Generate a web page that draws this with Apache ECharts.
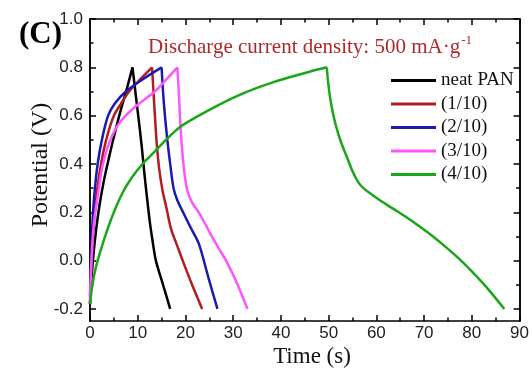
<!DOCTYPE html>
<html>
<head>
<meta charset="utf-8">
<script src="https://cdn.jsdelivr.net/npm/echarts@6/dist/echarts.min.js"></script>
<style>html,body{margin:0;padding:0;background:#fff;}#c{width:532px;height:370px;}</style>
</head>
<body>
<div id="c"></div>
<script>
// Data (time in s, potential in V); each sample: charge branch, then discharge branch
const seriesNames = ['neat PAN', '(1/10)', '(2/10)', '(3/10)', '(4/10)'];
const neatCharge = [[0,-0.18],[0.3,-0.08],[0.7,0.02],[1.3,0.13],[2.0,0.23],[2.9,0.33],[3.9,0.42],[5.1,0.52],[6.4,0.62],[7.7,0.71],[8.9,0.8]];
const neatDischarge = [[8.9,0.8],[9.5,0.70],[10.1,0.60],[10.8,0.48],[11.4,0.36],[12.0,0.25],[12.6,0.15],[13.2,0.07],[13.8,0.0],[15.3,-0.1],[16.8,-0.2]];
const p1Charge = [[0,-0.18],[0.3,-0.02],[0.7,0.12],[1.2,0.24],[1.9,0.35],[2.8,0.45],[3.8,0.53],[5.0,0.6],[6.5,0.65],[8.2,0.7],[10.5,0.75],[13.0,0.8]];
const p1Discharge = [[13.0,0.8],[13.3,0.70],[13.6,0.6],[14.0,0.48],[14.5,0.38],[15.2,0.29],[16.0,0.22],[17.0,0.13],[18.3,0.06],[20,-0.03],[21.8,-0.12],[23.5,-0.2]];
const p2Charge = [[0,-0.15],[0.2,0.0],[0.5,0.15],[0.9,0.27],[1.6,0.4],[2.6,0.51],[3.8,0.6],[5.2,0.65],[7.5,0.7],[11.0,0.75],[15.0,0.8]];
const p2Discharge = [[15.0,0.8],[15.3,0.7],[15.7,0.6],[16.2,0.5],[16.8,0.4],[17.5,0.3],[18.3,0.25],[19.5,0.2],[21,0.14],[22.8,0.07],[24.8,-0.07],[26.7,-0.2]];
const p3Charge = [[0,-0.17],[0.3,0.0],[0.8,0.15],[1.5,0.25],[2.5,0.38],[3.7,0.47],[5.5,0.55],[7.5,0.6],[10.3,0.65],[13.6,0.7],[16.0,0.75],[18.3,0.8]];
const p3Discharge = [[18.3,0.8],[18.6,0.7],[18.9,0.58],[19.3,0.46],[19.8,0.36],[20.4,0.29],[21.4,0.24],[22.8,0.2],[25,0.12],[27,0.05],[28.5,0.0],[30.5,-0.08],[33.0,-0.2]];
const p4Charge = [[0,-0.18],[0.5,-0.1],[1.2,-0.03],[2.2,0.04],[3.5,0.12],[5.0,0.2],[6.8,0.28],[8.8,0.345],[11,0.4],[13.5,0.45],[15.9,0.5],[19,0.555],[22.8,0.6],[27,0.645],[31,0.683],[35,0.715],[38.6,0.74],[42,0.76],[46,0.782],[49.6,0.8]];
const p4Discharge = [[49.6,0.8],[50.0,0.72],[50.6,0.64],[51.5,0.56],[52.6,0.49],[53.8,0.43],[55,0.37],[56.2,0.325],[57.3,0.30],[60,0.26],[63.4,0.216],[67,0.17],[71,0.113],[74,0.065],[77.2,0.01],[80,-0.045],[83.5,-0.12],[86.8,-0.2]];
const chargeData = [neatCharge, p1Charge, p2Charge, p3Charge, p4Charge];
const dischargeData = [neatDischarge, p1Discharge, p2Discharge, p3Discharge, p4Discharge];
const colors = ['#000000', '#b01e22', '#1a1ab0', '#ff55ff', '#19a619'];
const yMajor = [-0.2, 0.0, 0.2, 0.4, 0.6, 0.8, 1.0];
const yMinor = [-0.1, 0.1, 0.3, 0.5, 0.7, 0.9];
const xTitle = 'Time (s)';
const yTitle = 'Potential (V)';

const sans = 'Liberation Sans';
const serif = 'Liberation Serif';
const chart = echarts.init(document.getElementById('c'));

function xAx(pos, showLabel) {
  return {
    type: 'value', position: pos, min: 0, max: 90, interval: 10,
    axisLine: {show: true, onZero: false, lineStyle: {color: '#000', width: 1.5}},
    axisTick: {show: true, inside: true, length: 6, lineStyle: {color: '#000', width: 1.5}},
    minorTick: {show: true, splitNumber: 2, length: 3.5, lineStyle: {color: '#000', width: 1.5}},
    axisLabel: {show: showLabel, fontFamily: sans, fontSize: 17, color: '#222', margin: 4},
    splitLine: {show: false}
  };
}
function yAx(pos, ticks, len, showLabel) {
  return {
    type: 'value', position: pos, min: -0.25, max: 1.0,
    axisLine: {show: true, onZero: false, lineStyle: {color: '#000', width: 1.5}},
    axisTick: {show: true, inside: true, length: len, customValues: ticks, lineStyle: {color: '#000', width: 1.5}},
    axisLabel: {show: showLabel, customValues: yMajor, fontFamily: sans, fontSize: 17, color: '#222', margin: 7,
      formatter: v => v.toFixed(1)},
    splitLine: {show: false}
  };
}

const series = [];
chargeData.forEach((d, i) => {
  [d, dischargeData[i]].forEach(part => series.push({
    name: seriesNames[i], type: 'line', data: part, xAxisIndex: 0, yAxisIndex: 0,
    symbol: 'none', smooth: 0.3,
    lineStyle: {color: colors[i], width: 2.5}, itemStyle: {color: colors[i]}
  }));
});

chart.setOption({
  backgroundColor: '#fff',
  animation: false,
  grid: {left: 90, right: 7, top: 19, bottom: 49, containLabel: false},
  xAxis: [xAx('bottom', true), xAx('top', false)],
  yAxis: [yAx('left', yMajor, 6, true), yAx('left', yMinor, 3.5, false),
          yAx('right', yMajor, 6, false), yAx('right', yMinor, 3.5, false)],
  legend: {
    orient: 'vertical', left: 386, top: 66, itemWidth: 45, itemHeight: 3, itemGap: 4.5, icon: 'rect',
    textStyle: {fontFamily: serif, fontSize: 19, color: '#111'},
    data: seriesNames
  },
  graphic: [
    {type: 'text', left: 19, top: 19, style: {text: '(C)', font: 'bold 31px "Liberation Serif"', fill: '#000'}},
    {type: 'text', left: 148, top: 34.5, style: {
      text: '{a|Discharge current density: 500 mA·g}{s|-1}',
      rich: {
        a: {fontFamily: serif, fontSize: 21, fill: '#b0282a'},
        s: {fontFamily: serif, fontSize: 13, fill: '#b0282a', padding: [0, 0, 13, 1]}
      }
    }},
    {type: 'text', x: 312, y: 357, style: {text: xTitle, font: '23px "Liberation Serif"', fill: '#111',
      align: 'center', verticalAlign: 'middle'}},
    {type: 'text', x: 41, y: 165, rotation: Math.PI / 2, style: {text: yTitle, font: '24px "Liberation Serif"', fill: '#111',
      align: 'center', verticalAlign: 'middle'}}
  ],
  series: series
});
</script>
</body>
</html>
